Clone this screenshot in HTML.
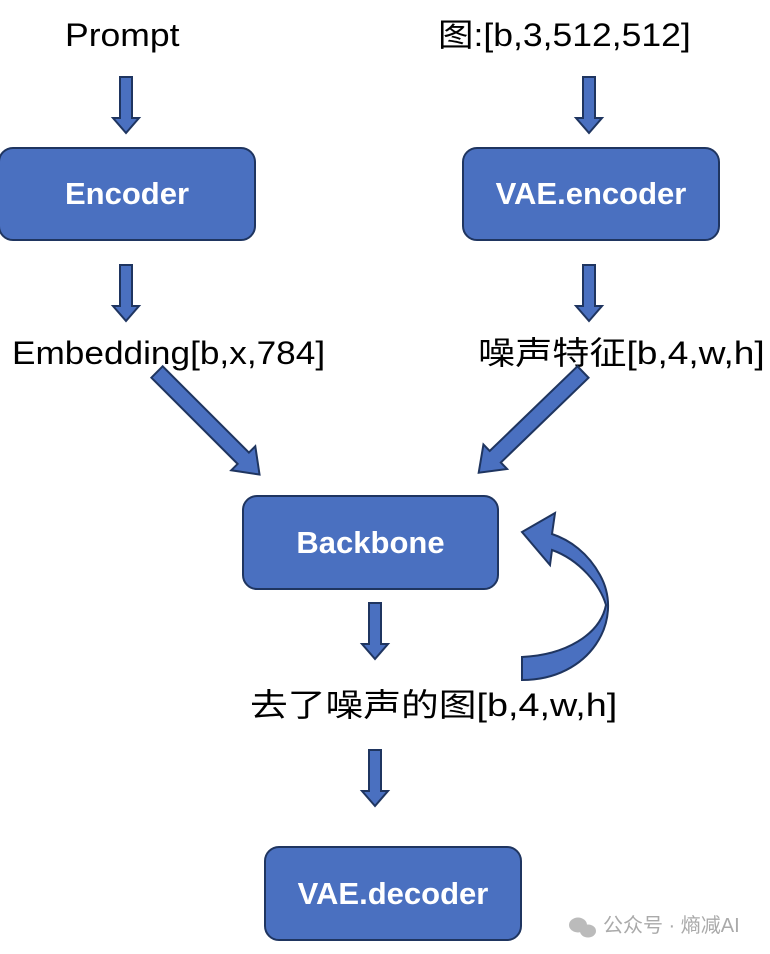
<!DOCTYPE html>
<html><head><meta charset="utf-8"><style>
body{margin:0;width:770px;height:954px;background:#fff;overflow:hidden;position:relative}
.t{position:absolute;font-family:"Liberation Sans","Noto Sans CJK SC",sans-serif;font-size:32px;color:#000;white-space:nowrap;line-height:1;transform-origin:0 50%}
.b{position:absolute;background:#4a70c0;border:2px solid #1f3560;border-radius:15px;box-sizing:border-box;color:#fff;font-family:"Liberation Sans",sans-serif;font-weight:bold;font-size:31px;display:flex;align-items:center;justify-content:center}
svg{position:absolute;left:0;top:0}
</style></head><body>
<div class="t" style="left:65px;top:19px;transform:scaleX(1.11)">Prompt</div>
<div class="t" style="left:438px;top:19px;transform:scaleX(1.11)">图:[b,3,512,512]</div>
<div class="t" style="left:12px;top:337px;transform:scaleX(1.1)">Embedding[b,x,784]</div>
<div class="t" style="left:478px;top:337px;transform:scaleX(1.16)">噪声特征[b,4,w,h]</div>
<div class="t" style="left:250px;top:689px;transform:scaleX(1.18)">去了噪声的图[b,4,w,h]</div>
<div class="b" style="left:-2px;top:147px;width:258px;height:94px">Encoder</div>
<div class="b" style="left:462px;top:147px;width:258px;height:94px">VAE.encoder</div>
<div class="b" style="left:242px;top:495px;width:257px;height:95px">Backbone</div>
<div class="b" style="left:264px;top:846px;width:258px;height:95px">VAE.decoder</div>
<svg width="770" height="954">
<defs><g id="a56"><polygon points="-6,0 6,0 6,41 13,41 0,56 -13,41 -6,41" fill="#4a70c0" stroke="#1f3560" stroke-width="2"/></g>
<g id="a150"><polygon points="-8,0 8,0 8,122 17,122 0,145 -17,122 -8,122" fill="#4a70c0" stroke="#1f3560" stroke-width="2"/></g></defs>
<use href="#a56" x="126" y="77"/>
<use href="#a56" x="589" y="77"/>
<use href="#a56" x="126" y="265"/>
<use href="#a56" x="589" y="265"/>
<use href="#a56" x="375" y="603"/>
<use href="#a56" x="375" y="750"/>
<use href="#a150" transform="translate(157,372) rotate(-45)" />
<use href="#a150" transform="translate(583,372) rotate(46)" />
<path d="M522,680 C590,680 625,620 600,575 C588,553 570,540 552,534 L555,513 L522,532 L550,565 L552,550 C580,560 600,585 606,605 C600,635 565,655 522,657 Z" fill="#4a70c0" stroke="#1f3560" stroke-width="2"/>
<g fill="#bbb"><ellipse cx="578" cy="925" rx="9" ry="7.5"/><ellipse cx="588" cy="931" rx="8" ry="6.5"/></g>
</svg>
<div class="t" style="left:603px;top:916px;font-size:20px;color:#aaa">公众号 · 熵减AI</div>
</body></html>
